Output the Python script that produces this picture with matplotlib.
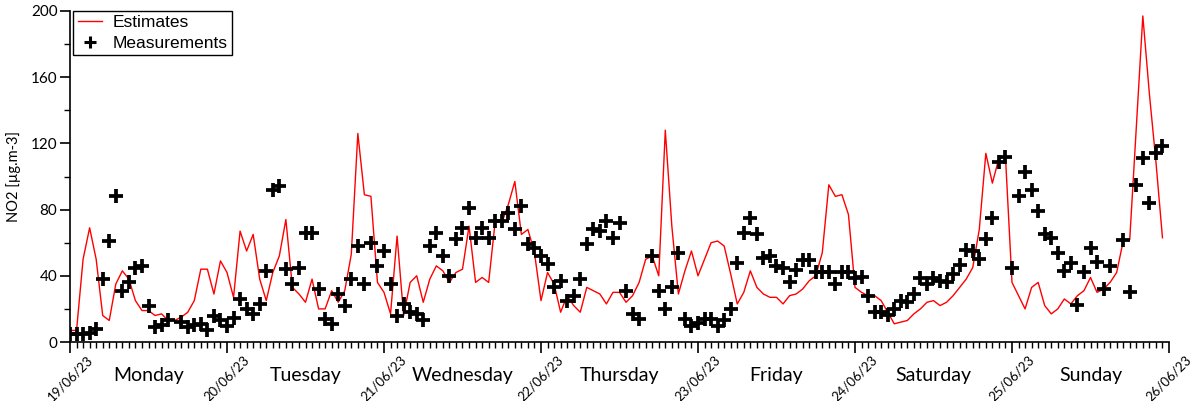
import numpy as np
import matplotlib
matplotlib.use("Agg")
from matplotlib import pyplot as plt
from matplotlib.ticker import MultipleLocator, FixedLocator
import matplotlib.transforms as mtransforms

# hourly values, 19/06/23 00h -> 25/06/23 23h
estimates = [
    7, 7, 50, 69, 50, 16, 13, 35, 43, 38,
    25, 19, 19, 16, 17, 13, 13, 15, 18, 25,
    44, 44, 29, 49, 42, 27, 67, 55, 65, 38,
    25, 42, 52, 74, 33, 29, 24, 38, 20, 20,
    31, 24, 31, 53, 126, 89, 88, 36, 30, 17,
    64, 16, 36, 40, 24, 38, 46, 43, 36, 42,
    44, 70, 36, 39, 36, 73, 72, 83, 97, 65,
    68, 54, 25, 42, 35, 18, 28, 22, 18, 33,
    31, 29, 23, 30, 30, 24, 28, 36, 50, 52,
    40, 128, 70, 29, 43, 55, 40, 50, 60, 61,
    58, 41, 23, 30, 43, 33, 29, 27, 27, 23,
    28, 29, 32, 37, 40, 54, 95, 88, 89, 77,
    33, 30, 28, 28, 25, 18, 11, 12, 13, 17,
    20, 24, 25, 22, 24, 28, 33, 38, 45, 68,
    114, 96, 111, 112, 36, 28, 20, 33, 36, 22,
    17, 20, 26, 23, 28, 31, 39, 30, 32, 36,
    42, 61, 62, 130, 197, 150, 109, 63,
]

nan = np.nan
measurements = [
    5, 5, 5, 5.5, 8, 38, 61, 88, 31, 36,
    45, 46, 22, 9, 10, 13, nan, 12, 9, 10,
    11, 7, 16, 13, 9.5, 14.5, 26, 20, 17, 23,
    43, 92, 94, 44, 35, 45, 66, 66, 32, 14,
    11, 29, 22, 38, 58, 35, 60, 46, 55, 35,
    16, 23, 18, 17, 13, 58, 66, 52, 40, 62,
    69, 81, 63, 69, 63, 73, 73, 78, 68, 82,
    59, 57, 52, 47, 33, 37, 25, 28, 38, 59,
    68, 67, 73, 63, 72, 31, 17, 14, nan, 52,
    31, 20, 33, 54, 14, 9.5, 11.5, 14, 14, 9.5,
    13, 20, 47.5, 66, 75, 65, 51, 52, 46, 45,
    36.5, 43.5, 49.5, 49.5, 42.5, 42, 42, 35, 42, 42,
    38.5, 39, 28, 18, 18, 16.5, 20, 25, 24, 29,
    38.5, 35, 38.5, 37, 36.5, 41, 46.5, 55.5, 55, 50,
    62, 75, 109, 111.5, 44.5, 88, 103, 92, 79, 65,
    63, 54, 43, 47.5, 22.5, 42, 57, 48.5, 32, 46,
    nan, 61.5, 30.5, 95, 111, 84, 114.5, 118.5,
]

date_labels = ["19/06/23", "20/06/23", "21/06/23", "22/06/23",
               "23/06/23", "24/06/23", "25/06/23", "26/06/23"]
day_names = ["Monday", "Tuesday", "Wednesday", "Thursday",
             "Friday", "Saturday", "Sunday"]

hours = np.arange(len(estimates))

fig = plt.figure(figsize=(11.98, 4.01), dpi=100)
ax = fig.add_axes([70 / 1198, 1 - 342 / 401, 1099 / 1198, 331 / 401])

ax.plot(hours, estimates, color="red", lw=1.0, label="Estimates")
ax.plot(hours, measurements, ls="none", marker="+", ms=10, mew=2.7,
        color="black", label="Measurements")

ax.set_xlim(0, 168)
ax.set_ylim(0, 200)
for s in ("top", "right"):
    ax.spines[s].set_visible(False)
ax.spines["left"].set_linewidth(1.2)
ax.spines["bottom"].set_linewidth(1.2)

ax.xaxis.set_major_locator(FixedLocator(np.arange(0, 169, 24)))
ax.xaxis.set_minor_locator(MultipleLocator(1))
ax.set_xticklabels(date_labels, rotation=45, ha="center",
                   fontfamily="Lato", fontsize=9.5)
ax.yaxis.set_major_locator(MultipleLocator(40))
ax.yaxis.set_minor_locator(MultipleLocator(20))
for lab in ax.get_yticklabels():
    lab.set_fontfamily("Lato")
    lab.set_fontsize(11)
ax.tick_params(axis="x", which="major", length=8, width=1.2, pad=0)
ax.tick_params(axis="x", which="minor", length=4, width=1)
ax.tick_params(axis="y", which="major", length=7, width=1.2, pad=2)
ax.tick_params(axis="y", which="minor", length=4, width=1)

ax.set_ylabel("NO2 [µg.m-3]", fontfamily="Lato", fontsize=10.5)
ax.yaxis.set_label_coords(-0.045, 0.5)

trans = mtransforms.blended_transform_factory(ax.transData, ax.transAxes)
for i, name in enumerate(day_names):
    ax.text(12 + 24 * i, -0.1, name, transform=trans, ha="center",
            va="center", fontfamily="Lato", fontsize=14)

leg = ax.legend(loc="upper left", bbox_to_anchor=(0.003, 1.0),
                borderaxespad=0, fancybox=False, framealpha=1,
                edgecolor="black", handlelength=1.4, handletextpad=0.6,
                borderpad=0.25, labelspacing=0.3,
                prop={"family": "Liberation Sans", "size": 12.5})
leg.get_frame().set_linewidth(1.0)
leg.legend_handles[1].set_markersize(8)
leg.legend_handles[1].set_markeredgewidth(2.2)

fig.savefig("out.png", dpi=100)
